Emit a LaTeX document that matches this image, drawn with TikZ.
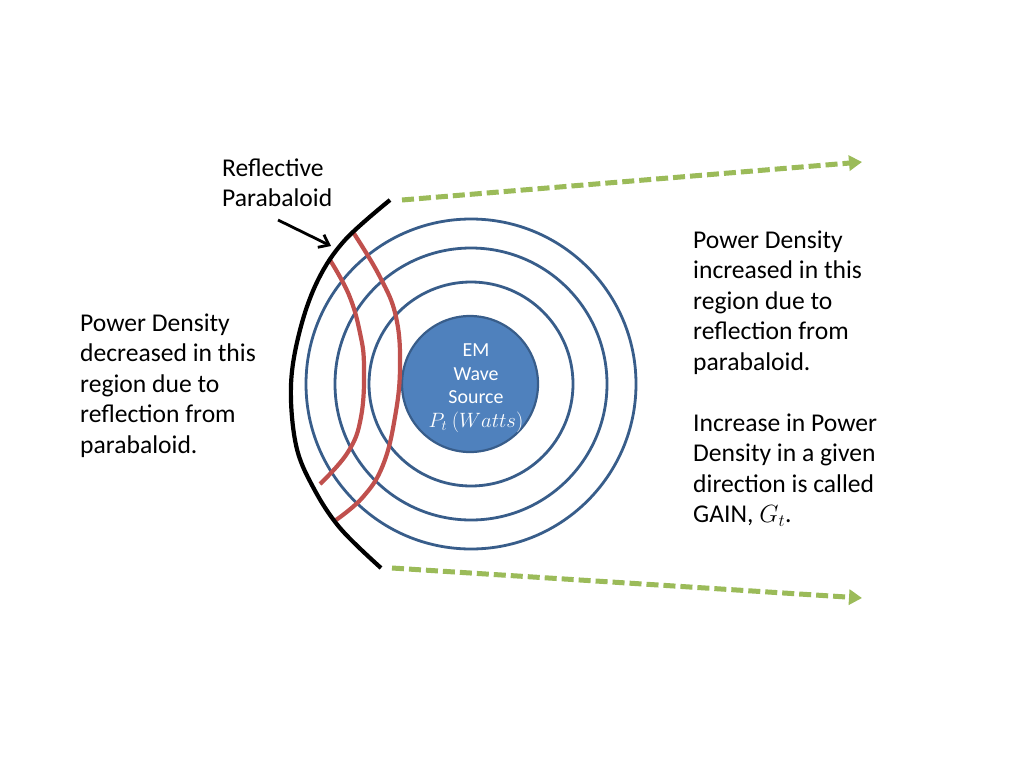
\documentclass[tikz,border=0pt]{standalone}
\usepackage{fontspec}
\setmainfont{Carlito}
\usetikzlibrary{arrows.meta}
\definecolor{srcblue}{RGB}{79,129,189}
\definecolor{ringblue}{RGB}{56,93,138}
\definecolor{redline}{RGB}{192,80,77}
\definecolor{greenline}{RGB}{155,187,89}
\tikzset{
  bigtext/.style={anchor=north west, inner sep=0pt, align=left,
    font=\fontsize{25.6pt}{30.5pt}\selectfont},
  ring/.style={draw=ringblue, line width=2.8pt},
  redwave/.style={draw=redline, line width=4.2pt},
  dish/.style={draw=black, line width=4.2pt},
  greenarrow/.style={draw=greenline, line width=5pt, dash pattern=on 12pt off 5pt,
    -{Triangle[length=13pt,width=15pt]}},
  pointer/.style={draw=black, line width=2.8pt, -{Straight Barb[length=9pt,width=14pt]}}
}
\begin{document}
\begin{tikzpicture}[x=1pt,y=-1pt]
\useasboundingbox (0,0) rectangle (1024,768);
\fill[white] (0,0) rectangle (1024,768);

% rings
\coordinate (c) at (471,384);
\draw[ring] (c) circle (102);
\draw[ring] (c) circle (136);
\draw[ring] (c) circle (165);

% source
\node[circle, fill=srcblue, draw=ringblue, line width=2.2pt, minimum size=136pt, inner sep=0pt] (src) at (470,384) {};
\node[text=white, align=center, inner sep=0pt, font=\fontsize{19.9pt}{23.5pt}\selectfont] (srctext) at (476,388)
  {EM\\Wave\\Source\\$P_t\ (Watts)$};

% red waves
\draw[redwave] plot[smooth, tension=0.7] coordinates {(330,260) (349,295) (360,333) (364,367) (361,417) (348,452) (320,484)};
\draw[redwave] plot[smooth, tension=0.7] coordinates {(353,232) (380,277) (396,317) (400,367) (395,417) (383,465) (363,497) (336,520)};

% reflective dish
\draw[dish] plot[smooth, tension=0.6] coordinates {(390,200) (345,240) (318,280) (300,330) (291,385) (296,445) (313,487) (340,528) (381,568)};

% green arrows
\coordinate (gt0) at (402,200);
\coordinate (gt1) at (862,162);
\coordinate (gb0) at (392,568);
\coordinate (gb1) at (862,598);
\draw[greenarrow] (gt0) -- (gt1);
\draw[greenarrow] (gb0) -- (gb1);

% labels
\node[bigtext] (refl) at (222,154.6) {\strut Reflective\\Parabaloid};
\coordinate (p0) at (278,220);
\coordinate (p1) at (331,246);
\draw[pointer] (p0) -- (p1);

\node[bigtext] (lefttext) at (80,309.6) {\strut Power Density\\decreased in this\\region due to\\reflection from\\parabaloid.};

\node[bigtext] (righttext) at (693,226.6) {\strut Power Density\\increased in this\\region due to\\reflection from\\parabaloid.\\[30.5pt]Increase in Power\\Density in a given\\direction is called\\GAIN, $G_t$.};
\end{tikzpicture}
\end{document}
